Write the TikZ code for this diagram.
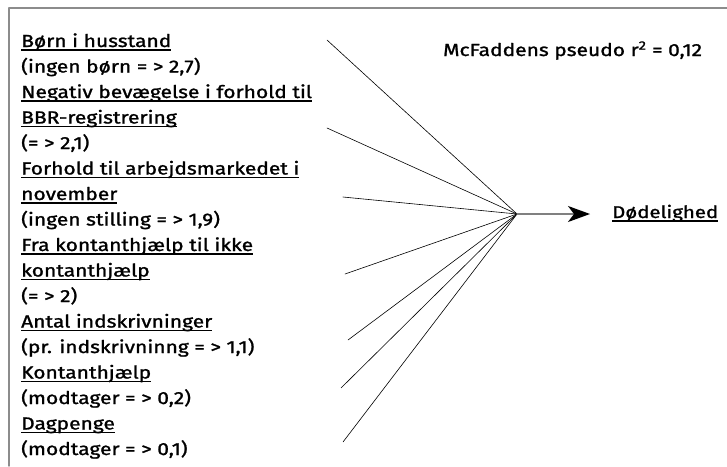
\documentclass[tikz,border=0pt]{standalone}
\usepackage{fontspec}
\setmainfont{Fira Sans}[FakeStretch=1.2,FakeBold=1.3]
\usetikzlibrary{arrows.meta}
\newcommand\uln[1]{\setbox0\hbox{#1}\rlap{\vrule width\wd0 height -2.4pt depth 3.7pt}\box0}

\begin{document}
\begin{tikzpicture}[x=1pt,y=-1pt,line cap=round,line join=round,
  vartext/.style={anchor=base west,align=left,inner sep=0pt,font=\fontsize{17.5}{25.5}\selectfont},
  effect/.style={line width=0.6pt,black},
  frame/.style={line width=1.4pt,draw=gray!90}]
\useasboundingbox (0,0) rectangle (727,466);
\draw[frame] (9,466) -- (9,8) -- (727,8);
\coordinate (hub) at (517,214);
\coordinate (v1) at (327,40);
\coordinate (v2) at (327,128);
\coordinate (v3) at (343,197);
\coordinate (v4) at (345,274);
\coordinate (v5) at (348,340);
\coordinate (v6) at (341,388);
\coordinate (v7) at (343,442);
% forklarende variable (baseline = sidste linje)
\node[vartext] (born) at (21,72.5) {\uln{Børn i husstand}\\(ingen børn = > 2,7)};
\node[vartext] (bbr) at (21,149) {\uln{Negativ bevægelse i forhold til}\\\uln{BBR-registrering}\\(= > 2,1)};
\node[vartext] (arb) at (21,225.5) {\uln{Forhold til arbejdsmarkedet i}\\\uln{november}\\(ingen stilling = > 1,9)};
\node[vartext] (fra) at (21,302) {\uln{Fra kontanthjælp til ikke}\\\uln{kontanthjælp}\\(= > 2)};
\node[vartext] (antal) at (21,353) {\uln{Antal indskrivninger}\\(pr. indskrivninng = > 1,1)};
\node[vartext] (kont) at (21,404) {\uln{Kontanthjælp}\\(modtager = > 0,2)};
\node[vartext] (dag) at (21,455) {\uln{Dagpenge}\\(modtager = > 0,1)};
\node[vartext] (mcf) at (443,56) {McFaddens pseudo r\textsuperscript{2} = 0,12};
\node[vartext,font=\fontsize{17}{20}\selectfont] (dod) at (612,218) {\uln{Dødelighed}};
\draw[effect] (v1) -- (hub);
\draw[effect] (v2) -- (hub);
\draw[effect] (v3) -- (hub);
\draw[effect] (v4) -- (hub);
\draw[effect] (v5) -- (hub);
\draw[effect] (v6) -- (hub);
\draw[effect] (v7) -- (hub);
\draw[line width=1.2pt,draw=gray,-{Stealth[length=22pt,width=16pt,inset=6pt,color=black]},shorten >=22pt] (hub) -- (hub -| dod.west);
\end{tikzpicture}
\end{document}
